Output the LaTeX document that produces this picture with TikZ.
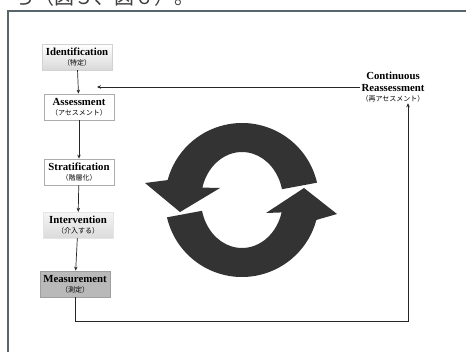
\documentclass[tikz,border=0pt]{standalone}
\usepackage{fontspec}
\setmainfont{Liberation Serif}
\newfontfamily\jpfont{Noto Sans CJK JP}
\usetikzlibrary{arrows.meta,calc}
\definecolor{framecol}{HTML}{56666A}
\definecolor{ringcol}{HTML}{333333}
\begin{document}
\begin{tikzpicture}[x=1pt,y=-1pt,
  stage/.style={minimum width=70pt,minimum height=26pt,inner sep=1pt,
    align=center,font=\fontsize{10.8}{11}\selectfont\bfseries},
  ident/.style={stage,top color=white,bottom color=gray!30,draw=gray!35},
  plain/.style={stage,fill=white,draw=gray!65,line width=0.8pt},
  interv/.style={stage,top color=gray!8,bottom color=gray!28,draw=gray!20},
  meas/.style={stage,fill=gray!55,draw=gray!75,line width=0.8pt},
  arr/.style={-{Stealth[length=4pt,width=3.5pt]},line width=0.7pt,draw=black!85}]
\useasboundingbox (0,0) rectangle (466,351);
\fill[white] (0,0) rectangle (466,351);

% caption line above the frame
\node[anchor=base west,inner sep=0pt,font=\jpfont\fontsize{20}{20}\selectfont,text=black!75]
  (cap) at (14,4) {ら（図５、図６）。};

% outer frame
\draw[framecol,line width=1.6pt] (8,360) -- (8,11) -- (475,11);

% stages
\node[ident]  (id)  at (77,57)  {Identification\\[-1pt]{\jpfont\fontsize{7}{8}\selectfont\mdseries （特定）}};
\node[plain]  (as)  at (79,107) {Assessment\\[-1pt]{\jpfont\fontsize{7}{8}\selectfont\mdseries （アセスメント）}};
\node[plain]  (st)  at (79,172) {Stratification\\[-1pt]{\jpfont\fontsize{7}{8}\selectfont\mdseries （階層化）}};
\node[interv] (iv)  at (78,225) {Intervention\\[-1pt]{\jpfont\fontsize{7}{8}\selectfont\mdseries （介入する）}};
\node[meas]   (me)  at (75,284) {Measurement\\[-1pt]{\jpfont\fontsize{7}{8}\selectfont\mdseries （測定）}};

\node[align=center,inner sep=1pt,font=\fontsize{10.8}{12}\selectfont\bfseries]
  (cr) at (393,87) {Continuous\\Reassessment\\[-2pt]{\jpfont\fontsize{7}{8}\selectfont\mdseries （再アセスメント）}};

% forward chain
\draw[arr] (id) -- (as);
\draw[arr] (as) -- (st);
\draw[arr] (st) -- (iv);
\draw[arr] (iv) -- (me);

% feedback loop
\coordinate (lc) at (408,321);
\coordinate (fx) at (97,0);
\draw[arr] (me.south) |- (lc) -- (lc |- cr.south);
\draw[arr] (cr.west) -- (cr.west -| fx);

% circular arrows
\coordinate (c) at (242,200);
\fill[ringcol]
  ($(c)+(-13:77)$) arc[start angle=-13,end angle=-165,radius=77]
  -- (145,183) -- (180,212) -- (220,188)
  -- ($(c)+({41*cos(-165)},{48*sin(-165)})$)
  arc[start angle=-165,end angle=-13,x radius=41,y radius=48] -- cycle;
\fill[ringcol]
  ($(c)+(167:77)$) arc[start angle=167,end angle=15,radius=77]
  -- (337,214) -- (304,188) -- (266,213)
  -- ($(c)+({41*cos(15)},{48*sin(15)})$)
  arc[start angle=15,end angle=167,x radius=41,y radius=48] -- cycle;
\end{tikzpicture}
\end{document}
